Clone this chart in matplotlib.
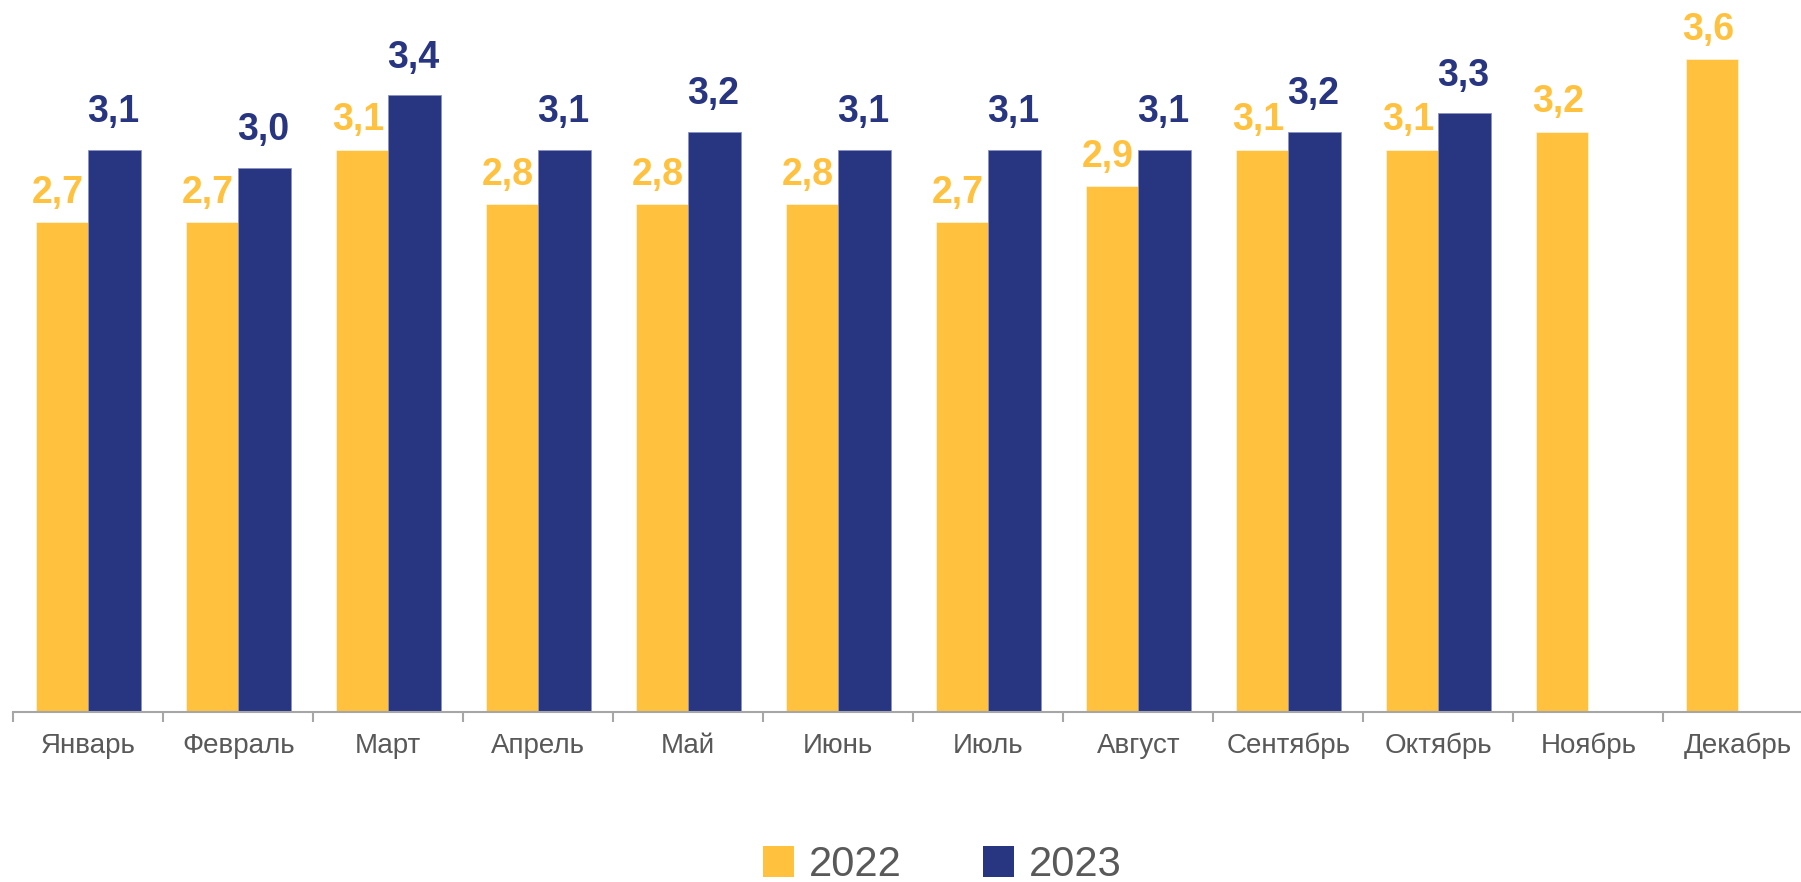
import matplotlib.pyplot as plt
from matplotlib.patches import Patch

months = ['Январь', 'Февраль', 'Март', 'Апрель', 'Май', 'Июнь',
          'Июль', 'Август', 'Сентябрь', 'Октябрь', 'Ноябрь', 'Декабрь']
vals_2022 = [2.7, 2.7, 3.1, 2.8, 2.8, 2.8, 2.7, 2.9, 3.1, 3.1, 3.2, 3.6]
vals_2023 = [3.1, 3.0, 3.4, 3.1, 3.2, 3.1, 3.1, 3.1, 3.2, 3.3]

yellow = '#FFC13E'
blue = '#283580'
gray = '#595959'

plt.rcParams['font.family'] = ['Liberation Sans', 'DejaVu Sans']

fig = plt.figure(figsize=(18.01, 8.82), dpi=100)
# axes runs slightly past the right edge, like the original
ax = fig.add_axes([13.3 / 1801, 170 / 882, 1800 / 1801, 712 / 882])

w = 0.35
x22 = [i - w / 2 for i in range(len(vals_2022))]
x23 = [i + w / 2 for i in range(len(vals_2023))]
ax.bar(x22, vals_2022, width=w, color=yellow, edgecolor='#fff3d6', linewidth=0.6)
ax.bar(x23, vals_2023, width=w, color=blue, edgecolor='#8a93c4', linewidth=0.6)

for x, v in zip(x22, vals_2022):
    ax.annotate(f'{v:.1f}'.replace('.', ','), (x, v), xytext=(-3, 14),
                textcoords='offset points', ha='center', va='baseline',
                fontsize=27, fontweight='bold', color=yellow)
for x, v in zip(x23, vals_2023):
    ax.annotate(f'{v:.1f}'.replace('.', ','), (x, v), xytext=(-1, 20),
                textcoords='offset points', ha='center', va='baseline',
                fontsize=27, fontweight='bold', color=blue)

ax.set_xlim(-0.5, 11.5)
ax.set_ylim(0, 3.6 * 712 / 653)

ax.set_xticks([i - 0.5 for i in range(13)])
ax.set_xticklabels([])
ax.set_xticks(range(12), minor=True)
ax.set_xticklabels(months, minor=True, fontsize=20, color=gray)
ax.tick_params(axis='x', which='major', length=7, width=1.5, color='#a6a6a6', direction='out')
ax.tick_params(axis='x', which='minor', length=0, pad=15)
ax.set_yticks([])

for s in ['top', 'right', 'left']:
    ax.spines[s].set_visible(False)
ax.spines['bottom'].set_color('#a6a6a6')
ax.spines['bottom'].set_linewidth(1.5)

handles = [Patch(facecolor=yellow, label='2022'), Patch(facecolor=blue, label='2023')]
fig.legend(handles=handles, loc='lower center', bbox_to_anchor=(0.523, -0.046),
           ncol=2, frameon=False, fontsize=30, handlelength=0.75, handleheight=0.75,
           handletextpad=0.35, columnspacing=1.95, labelcolor=gray)

fig.savefig('out.png', dpi=100)
